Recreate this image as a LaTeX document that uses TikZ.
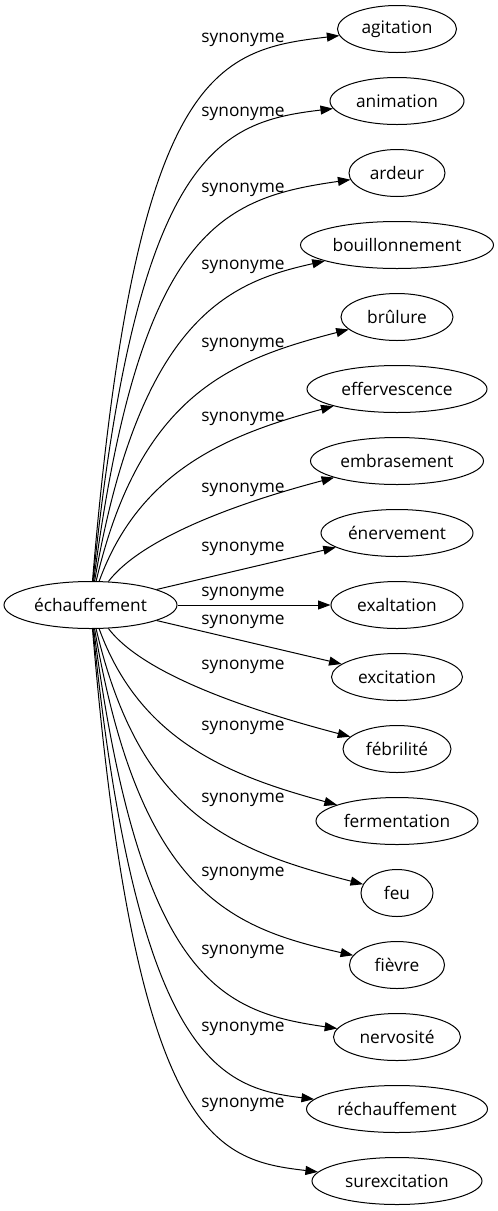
\documentclass[tikz,border=0pt]{standalone}
\usepackage{fontspec}
\setmainfont{Open Sans}
\usetikzlibrary{arrows.meta,shapes.geometric}
\begin{document}
\begin{tikzpicture}[x=1pt,y=-1pt,
  nd/.style={draw,ellipse,line width=1pt,inner sep=0pt,minimum height=47pt,font=\fontsize{17.3}{20}\selectfont},
  lab/.style={inner sep=0pt,font=\fontsize{17.3}{20}\selectfont},
  edge/.style={line width=1pt,-{Triangle[length=12.5pt,width=9pt]}}]
\useasboundingbox (0,0) rectangle (498,1211);
\node[nd,minimum width=173pt] (src) at (90.5,605) {échauffement};
\node[nd,minimum width=119pt] (t1) at (397,29) {agitation};
\node[nd,minimum width=134pt] (t2) at (397,101) {animation};
\node[nd,minimum width=96pt] (t3) at (397,173) {ardeur};
\node[nd,minimum width=193pt] (t4) at (397,245) {bouillonnement};
\node[nd,minimum width=112pt] (t5) at (397,317) {brûlure};
\node[nd,minimum width=180pt] (t6) at (397,389) {effervescence};
\node[nd,minimum width=173pt] (t7) at (397,461) {embrasement};
\node[nd,minimum width=152pt] (t8) at (397,533) {énervement};
\node[nd,minimum width=132pt] (t9) at (397,605) {exaltation};
\node[nd,minimum width=131pt] (t10) at (397,677) {excitation};
\node[nd,minimum width=108pt] (t11) at (397,749) {fébrilité};
\node[nd,minimum width=162pt] (t12) at (397,821) {fermentation};
\node[nd,minimum width=72pt] (t13) at (397,893) {feu};
\node[nd,minimum width=95pt] (t14) at (397,965) {fièvre};
\node[nd,minimum width=127pt] (t15) at (397,1037) {nervosité};
\node[nd,minimum width=181pt] (t16) at (397,1109) {réchauffement};
\node[nd,minimum width=170pt] (t17) at (397,1181) {surexcitation};
\foreach \i/\y in {1/40,2/114,3/190,4/267,5/345,6/419,7/490,8/549,9/594,10/622,11/667,12/728,13/800,14/874,15/952,16/1029,17/1105}
  \node[lab] (l\i) at (243,\y) {synonyme};
\draw[edge] (src) .. controls (135,70) and (215,50) .. (t1);
\draw[edge] (src) .. controls (137,150) and (220,122) .. (t2);
\draw[edge] (src) .. controls (140,228) and (222,198) .. (t3);
\draw[edge] (src) .. controls (140,317) and (230,282) .. (t4);
\draw[edge] (src) .. controls (140,395) and (230,360) .. (t5);
\draw[edge] (src) .. controls (140,469) and (230,434) .. (t6);
\draw[edge] (src) .. controls (140,540) and (230,505) .. (t7);
\draw[edge] (src) -- (t8);
\draw[edge] (src) -- (t9);
\draw[edge] (src) -- (t10);
\draw[edge] (src) .. controls (140,670) and (230,705) .. (t11);
\draw[edge] (src) .. controls (140,741) and (230,776) .. (t12);
\draw[edge] (src) .. controls (140,815) and (230,850) .. (t13);
\draw[edge] (src) .. controls (140,893) and (230,928) .. (t14);
\draw[edge] (src) .. controls (140,982) and (222,1012) .. (t15);
\draw[edge] (src) .. controls (137,1060) and (220,1088) .. (t16);
\draw[edge] (src) .. controls (135,1140) and (215,1160) .. (t17);
\end{tikzpicture}
\end{document}
